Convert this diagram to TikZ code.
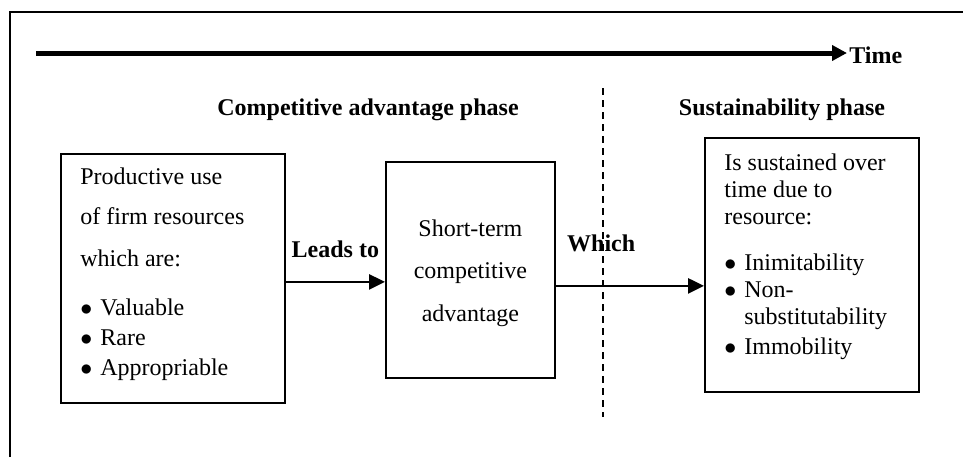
\documentclass[tikz,border=0pt]{standalone}
\usepackage{fontspec}
\setmainfont{Liberation Serif}
\usepackage{tikz}
\usetikzlibrary{arrows.meta}
\usetikzlibrary{positioning}

\newcommand{\itm}[1]{\makebox[10pt][l]{$\bullet$}#1}

\begin{document}
\begin{tikzpicture}[x=0.5pt,y=-0.5pt,
    box/.style={draw, line width=0.9pt, inner sep=0pt, anchor=north west},
    flow/.style={line width=1.4pt, -{Triangle[length=8pt,width=7.5pt]}},
    phase/.style={font=\fontsize{12}{14}\selectfont\bfseries}]
    \useasboundingbox (0,0) rectangle (963,457);
    % outer frame, cut off at right and bottom
    \coordinate (fbot) at (10,457);
    \coordinate (fright) at (963,12);
    \draw[line width=1pt] (fbot) |- (fright);
    % time axis
    \coordinate (tstart) at (36,53);
    \node[phase, anchor=west, inner sep=1pt] (time) at (847,55) {Time};
    \draw[line width=2.5pt, -{Triangle[length=7.5pt,width=7.5pt]}] (tstart) -- (tstart -| time.west);
    \node[phase] (cap) at (368,110) {Competitive advantage phase};
    \node[phase] (sus) at (782,110) {Sustainability phase};
    \coordinate (divtop) at (603,88);
    \coordinate (divbot) at (603,417);
    \draw[line width=0.9pt, dash pattern=on 3.5pt off 2.5pt] (divtop) -- (divbot);
    % boxes
    \node[box, minimum width=112pt, minimum height=124.5pt] (res) at (60,153) {};
    \node[box, minimum width=84.5pt, minimum height=108pt] (adv) at (385,161) {};
    \node[box, minimum width=107pt, minimum height=127pt] (sst) at (704,137) {};
    \node[below right=7pt and 10pt of res.north west, inner sep=0pt, align=left,
        font=\fontsize{12}{15}\selectfont] (restxt)
        {Productive use\\[5pt] of firm resources\\[6pt] which are:\\[9.5pt]
         \itm{Valuable}\\ \itm{Rare}\\ \itm{Appropriable}};
    \node[below=29pt of adv.north, inner sep=0pt, align=center,
        font=\fontsize{12}{21.25}\selectfont] (advtxt)
        {Short-term\\ competitive\\ advantage};
    \node[below right=8pt and 10pt of sst.north west, inner sep=0pt, align=left,
        font=\fontsize{12}{13.5}\selectfont] (ssttxt)
        {Is sustained over\\ time due to\\ resource:\\[9.5pt]
         \itm{Inimitability}\\ \itm{Non-}\\ \hspace*{10pt}substitutability\\[1.5pt] \itm{Immobility}};
    % connectors
    \draw[flow] ([yshift=-1.75pt]res.east) -- ([yshift=-1.75pt]res.east -| adv.west)
        node[midway, above=11.5pt, inner sep=0pt, phase] {Leads to};
    \draw[flow] ([yshift=-8pt]adv.east) -- ([yshift=-8pt]adv.east -| sst.west)
        node[at start, anchor=south west, inner sep=0pt, xshift=5pt, yshift=16.5pt, phase] {Which};
\end{tikzpicture}
\end{document}
